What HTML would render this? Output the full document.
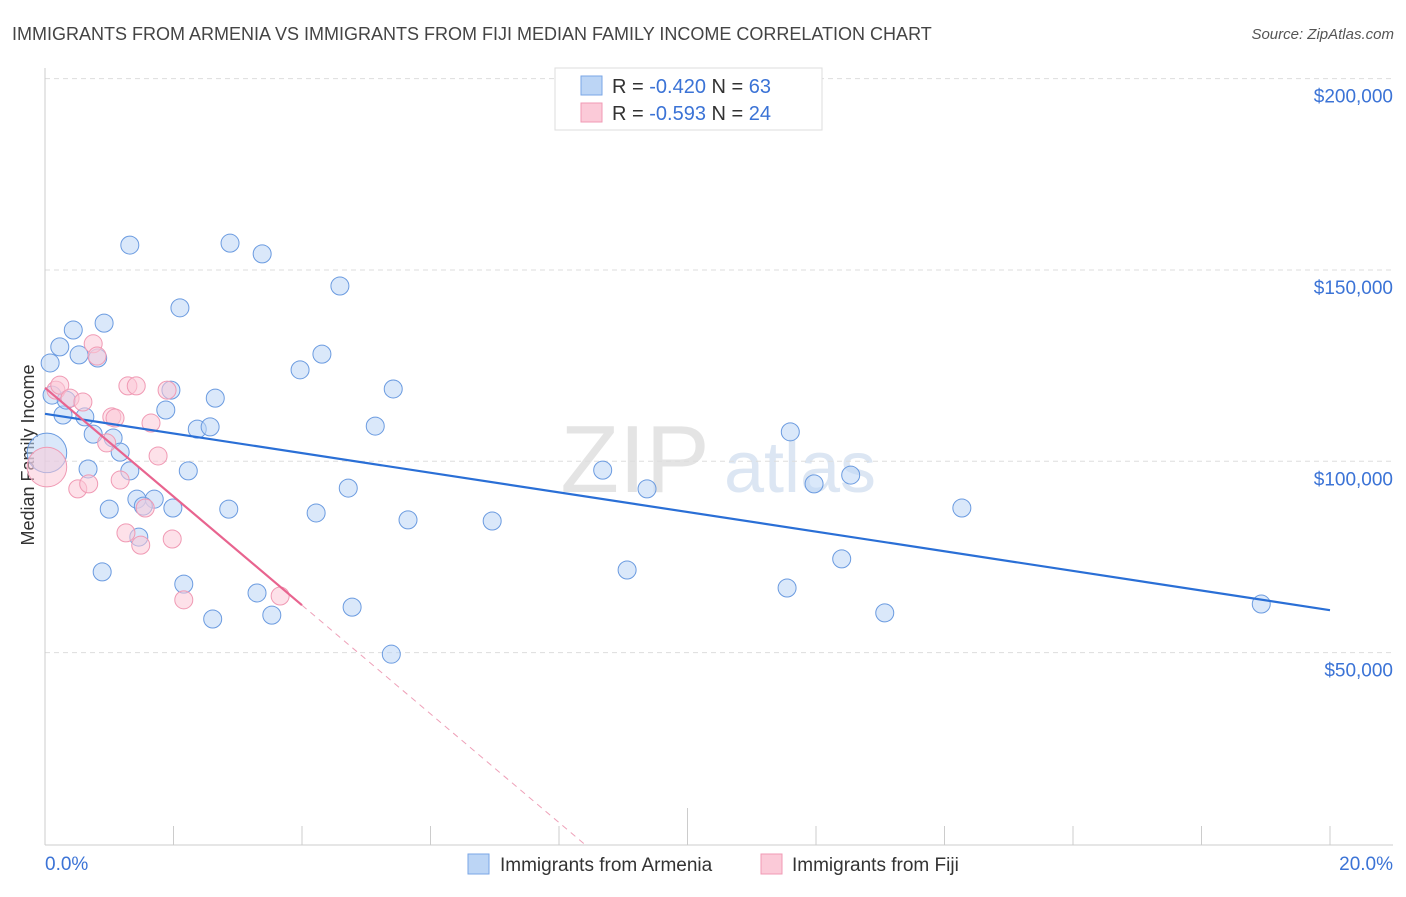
<!DOCTYPE html>
<html><head><meta charset="utf-8"><style>
body{margin:0;background:#fff;width:1406px;height:892px;overflow:hidden;font-family:"Liberation Sans",sans-serif}
svg text{font-family:"Liberation Sans",sans-serif}
</style></head><body>
<svg id="c" width="1406" height="892">
<text x="12" y="40" font-size="18" fill="#444">IMMIGRANTS FROM ARMENIA VS IMMIGRANTS FROM FIJI MEDIAN FAMILY INCOME CORRELATION CHART</text>
<text x="1394" y="39" font-size="15" fill="#555" font-style="italic" text-anchor="end">Source: ZipAtlas.com</text>
<text x="635" y="492" font-size="96" fill="#e4e4e4" font-family="Liberation Serif" text-anchor="middle">ZIP</text>
<text x="800" y="492" font-size="72" fill="#dce6f3" text-anchor="middle">atlas</text>
<text transform="translate(34,455) rotate(-90)" font-size="18" fill="#333" text-anchor="middle">Median Family Income</text>
<g id="grid"></g><g id="pts"></g><g id="lines"></g>
<rect x="555" y="68" width="267" height="62" fill="#fff" stroke="#ddd"/>
<rect x="581" y="76" width="21" height="19" fill="#bcd5f5" stroke="#7aa6e6"/>
<text x="612" y="93" font-size="20" fill="#333">R = <tspan fill="#3b73d6">-0.420</tspan>   N = <tspan fill="#3b73d6">63</tspan></text>
<rect x="581" y="103" width="21" height="19" fill="#fbcad8" stroke="#f09ab4"/>
<text x="612" y="120" font-size="20" fill="#333">R =  <tspan fill="#3b73d6">-0.593</tspan>   N = <tspan fill="#3b73d6">24</tspan></text>
<text x="45" y="870" font-size="19" fill="#3b73d6">0.0%</text>
<text x="1393" y="870" font-size="19" fill="#3b73d6" text-anchor="end">20.0%</text>
<rect x="468" y="854" width="21" height="20" fill="#bcd5f5" stroke="#7aa6e6"/>
<text x="500" y="871" font-size="19" fill="#333">Immigrants from Armenia</text>
<rect x="761" y="854" width="21" height="20" fill="#fbcad8" stroke="#f09ab4"/>
<text x="792" y="871" font-size="19" fill="#333">Immigrants from Fiji</text>
</svg>
<script>
const yTicks=[50000,100000,150000,200000];
const yTickLabels=["$50,000","$100,000","$150,000","$200,000"];
const xTicks=[0,2,4,6,8,10,12,14,16,18,20];
const armeniaX=[0.08,0.11,0.23,0.28,0.44,0.53,0.92,0.82,0.33,0.62,0.75,1.06,1.17,1.32,2.10,1.88,1.96,2.65,2.37,2.57,1.32,0.67,1.00,0.89,1.43,1.70,1.53,1.99,1.46,2.23,2.88,3.38,3.97,4.31,4.59,5.42,5.14,4.72,4.22,5.65,6.96,2.86,2.16,2.61,3.30,3.53,4.78,5.39,8.68,9.37,9.06,11.60,11.97,12.54,11.55,12.40,13.07,14.27,18.93,0.03];
const armeniaY=[125.7,117.3,129.9,112.1,134.3,127.8,136.1,127.0,116.0,111.6,107.1,106.1,102.4,156.5,140.1,113.4,118.6,116.5,108.4,109.0,97.5,98.0,87.5,71.1,90.1,90.1,88.3,87.8,80.2,97.5,157.0,154.2,123.9,128.0,145.8,118.9,109.2,93.0,86.5,84.7,84.4,87.5,67.9,58.8,65.6,59.8,61.9,49.6,97.7,92.8,71.6,107.7,94.1,96.4,66.9,74.5,60.4,87.8,62.7,102.2];
const armeniaSize=[1,1,1,1,1,1,1,1,1,1,1,1,1,1,1,1,1,1,1,1,1,1,1,1,1,1,1,1,1,1,1,1,1,1,1,1,1,1,1,1,1,1,1,1,1,1,1,1,1,1,1,1,1,1,1,1,1,1,1,2.2];
const fijiX=[0.03,0.17,0.23,0.39,0.59,0.75,0.81,1.29,1.42,1.04,0.96,0.51,0.68,1.17,1.65,1.76,1.90,1.26,1.49,1.98,2.16,3.66,1.56,1.09];
const fijiY=[98.5,118.6,119.9,116.5,115.5,130.7,127.5,119.7,119.7,111.6,104.8,92.8,94.1,95.1,110.0,101.4,118.6,81.3,78.1,79.7,63.8,64.8,87.8,111.3];
const fijiSize=[2.2,1,1,1,1,1,1,1,1,1,1,1,1,1,1,1,1,1,1,1,1,1,1,1];
const armeniaTrend=[112.4,61.1];
const fijiTrend=[119.2,62.4];
const fijiTrendEndX=4.0;
const NS="http://www.w3.org/2000/svg";
const X=v=>45+v/20*1285;
const Y=v=>844-v*3.827;
function mk(t,a,p){const e=document.createElementNS(NS,t);for(const k in a)e.setAttribute(k,a[k]);p.appendChild(e);return e;}
const grid=document.getElementById('grid');
yTicks.forEach((t,i)=>{
 const l=mk('line',{x1:45,x2:1393,y1:Y(t/1000),y2:Y(t/1000),stroke:'#ddd','stroke-dasharray':'5,4'},grid);
 
 
 const tx=mk('text',{x:1393,y:Y(t/1000)+24,'font-size':19,fill:'#3b73d6','text-anchor':'end'},grid);
 tx.textContent=yTickLabels[i];
 
 
});
const ax=mk('line',{x1:45,x2:45,y1:68,y2:845,stroke:'#ccc'},grid);


const bx=mk('line',{x1:45,x2:1393,y1:845,y2:845,stroke:'#ccc'},grid);


xTicks.forEach(t=>{
 const tk=mk('line',{x1:X(t),x2:X(t),y1:t===10?808:826,y2:845,stroke:'#ccc'},grid);
 
 
});
const pts=document.getElementById('pts');
function series(xs,ys,ss,fill,stroke,name){
 xs.forEach((x,i)=>{
  const c=mk('circle',{cx:X(x),cy:Y(ys[i]),r:9*ss[i],fill:fill,'fill-opacity':0.55,stroke:stroke,'stroke-width':1},pts);
  
  
 });
}
series(armeniaX,armeniaY,armeniaSize,'#bcd5f5','#6b9be0','point-armenia');
series(fijiX,fijiY,fijiSize,'#fbc8d7','#f09ab4','point-fiji');
const lines=document.getElementById('lines');
const a=mk('line',{x1:X(0),y1:Y(armeniaTrend[0]),x2:X(20),y2:Y(armeniaTrend[1]),stroke:'#2a6fd6','stroke-width':2.2},lines);


const slope=(fijiTrend[1]-fijiTrend[0])/fijiTrendEndX;
const zeroX=-fijiTrend[0]/slope;
const f=mk('line',{x1:X(0),y1:Y(fijiTrend[0]),x2:X(fijiTrendEndX),y2:Y(fijiTrend[1]),stroke:'#e8648f','stroke-width':2.2},lines);


const fd=mk('line',{x1:X(fijiTrendEndX),y1:Y(fijiTrend[1]),x2:X(zeroX),y2:Y(0),stroke:'#eea0b8','stroke-width':1,'stroke-dasharray':'6,5'},lines);


</script>
</body></html>
